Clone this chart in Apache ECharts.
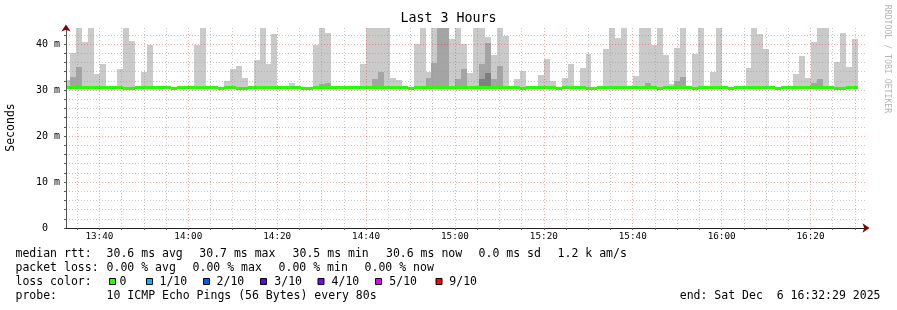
<!DOCTYPE html>
<html><head><meta charset="utf-8">
<script src="https://cdn.jsdelivr.net/npm/echarts@6/dist/echarts.min.js"></script>
<style>html,body{margin:0;padding:0;background:#fff}#c{width:897px;height:310px}</style>
</head><body><div id="c"></div>
<script>
// ---------- data ----------
const TITLE = 'Last 3 Hours';
const RANGE_START = '13:32:29';
const RANGE_END = '16:32:29';
const STEP_FIRST = '13:32:03';
const STEP_SECONDS = 80;
const X_LABELS = ['13:40','14:00','14:20','14:40','15:00','15:20','15:40','16:00','16:20'];
const Y_LABELS = ['0  ','10 m','20 m','30 m','40 m'];
const Y_LABEL_VALUES = [0,10,20,30,40];
const Y_MAX = 43.48;
const SMOKE_FLOOR = 30.4;

// highest ping per 80 s step (ms), null = no visible smoke
const pingMax = [
 32.2,38.0,44,40.4,44,33.4,35.6,null,null,34.5,
 44,40.7,null,33.9,39.8,null,null,null,null,null,
 null,null,39.8,44,null,null,null,31.9,34.5,35.2,
 32.6,null,36.5,44,35.6,42.2,null,null,31.5,null,
 null,null,39.8,44,42.4,null,null,null,null,null,
 35.6,44,44,44,44,32.6,32.1,null,null,40.0,
 44,33.9,44,44,44,41.1,44,40.0,33.7,44,
 44,41.5,37.6,44,41.7,null,32.5,34.1,null,null,
 33.2,36.7,31.9,null,32.6,35.6,null,34.8,37.8,null,
 null,38.9,44,41.3,44,null,33.0,44,44,39.8,
 44,37.6,31.3,39.1,44,null,37.8,44,null,33.9,
 44,null,null,null,null,34.8,43.5,42.2,38.9,null,
 null,null,null,33.4,37.4,32.6,40.4,44,44,null,
 36.1,42.4,35.0,41.1
];
// second smoke layer (inner pings)
const pingMidStep  = [1,2,43,44,52,53,61,62,63,64,66,67,70,71,72,73,98,103,104,126,127];
const pingMidValue = [32.8,35.0,31.4,31.5,32.5,33.9,32.6,35.8,44,44,32.5,34.5,35.6,40.2,32.5,35.2,31.5,31.9,32.8,31.5,32.5];
// third smoke layer
const pingDarkStep  = [70,71];
const pingDarkValue = [32.5,33.7];
// median rtt per step (ms)
const median = [
 30.6,30.6,30.6,30.6,30.6,30.6,30.6,30.6,30.6,30.6,
 30.4,30.4,30.6,30.6,30.6,30.6,30.6,30.6,30.4,30.6,
 30.6,30.6,30.6,30.6,30.6,30.6,30.4,30.6,30.6,30.4,
 30.4,30.6,30.6,30.6,30.6,30.6,30.6,30.6,30.6,30.6,
 30.4,30.4,30.6,30.6,30.6,30.6,30.6,30.6,30.6,30.6,
 30.6,30.6,30.6,30.6,30.6,30.6,30.6,30.6,30.4,30.6,
 30.6,30.6,30.6,30.6,30.6,30.6,30.6,30.6,30.6,30.6,
 30.6,30.6,30.6,30.6,30.6,30.6,30.6,30.4,30.6,30.6,
 30.6,30.6,30.6,30.4,30.6,30.6,30.6,30.6,30.4,30.4,
 30.6,30.6,30.6,30.6,30.6,30.6,30.6,30.6,30.6,30.6,
 30.4,30.6,30.6,30.6,30.6,30.6,30.4,30.6,30.6,30.6,
 30.6,30.6,30.4,30.6,30.6,30.6,30.6,30.6,30.6,30.6,
 30.4,30.6,30.6,30.6,30.6,30.6,30.6,30.6,30.6,30.6,
 30.4,30.4,30.6,30.6
];
const LOSS_LABELS = ['0','1/10','2/10','3/10','4/10','5/10','9/10'];
const LOSS_COLORS = ['#26ff00','#00b8ff','#0059ff','#5e00ff','#7e00ff','#dd00ff','#ff0000'];
const LEGEND_RTT = ['median rtt:','30.6 ms avg','30.7 ms max','30.5 ms min','30.6 ms now','0.0 ms sd','1.2 k am/s'];
const LEGEND_LOSS = ['packet loss:','0.00 % avg','0.00 % max','0.00 % min','0.00 % now'];
const LEGEND_PROBE = ['probe:','10 ICMP Echo Pings (56 Bytes) every 80s'];
const LEGEND_END = 'end: Sat Dec  6 16:32:29 2025';
const WATERMARK = 'RRDTOOL / TOBI OETIKER';

// ---------- build ----------
const MONO = '"DejaVu Sans Mono", monospace';
const toMin = s => { const p = s.split(':').map(Number); return p[0]*60 + p[1] + (p[2]||0)/60; };
const X_MIN = toMin(RANGE_START), X_MAX = toMin(RANGE_END);
const STEP_MIN = STEP_SECONDS/60;
const T0 = toMin(STEP_FIRST);
const xLabelVals = X_LABELS.map(toMin);
const xGrid = []; for (let v = Math.ceil(X_MIN/5)*5; v < X_MAX; v += 5) xGrid.push(v);
const yGrid = []; for (let v = 0; v <= Y_MAX; v += 2) yGrid.push(v);

function bandFull(arr){ const o=[]; arr.forEach((v,i)=>{ if(v!=null) o.push([T0+i*STEP_MIN, T0+(i+1)*STEP_MIN, v]); }); return o; }
function bandSparse(steps, vals){ return steps.map((s,k)=>[T0+s*STEP_MIN, T0+(s+1)*STEP_MIN, vals[k]]); }

function clip(r, cs){ return echarts.graphic.clipRectByRect(r, {x:cs.x, y:cs.y, width:cs.width, height:cs.height}); }
function smokeRender(color){
  return function(params, api){
    const a = api.coord([api.value(0), api.value(2)]);
    const b = api.coord([api.value(1), SMOKE_FLOOR]);
    const x0 = Math.round(a[0]), x1 = Math.round(b[0]);
    const y0 = Math.round(a[1]), y1 = Math.round(b[1]);
    const r = clip({x:x0, y:y0, width:x1-x0, height:y1-y0}, params.coordSys);
    return r ? {type:'rect', shape:r, style:{fill:color}} : null;
  };
}
function medianRender(params, api){
  const a = api.coord([api.value(0), api.value(2)]);
  const b = api.coord([api.value(1), api.value(2)]);
  const x0 = Math.round(a[0]), x1 = Math.round(b[0]);
  const y0 = Math.round(a[1] - 1.5);
  const r = clip({x:x0, y:y0, width:x1-x0, height:3}, params.coordSys);
  return r ? {type:'rect', shape:r, style:{fill:LOSS_COLORS[0]}} : null;
}

const GRAY = 'rgba(150,150,150,0.55)';
const RED = 'rgba(255,0,0,0.35)';

const graphics = [];
function txt(x, y, s, extra){ graphics.push(Object.assign({type:'text', x:x, y:y, style:{text:s, font:'11.5px '+MONO, fill:'#000', align:'left', verticalAlign:'middle'}}, extra||{})); }
const rowY = [254.3, 268.3, 282.3, 296.3];
[15.5,106.6,199.3,292.6,386,478.6,557.6].forEach((x,i)=>txt(x,rowY[0],LEGEND_RTT[i]));
[15.5,106.6,192.6,278.6,364.6].forEach((x,i)=>txt(x,rowY[1],LEGEND_LOSS[i]));
txt(15.5,rowY[2],'loss color:');
const boxX = [109,146,203,260,317.5,375,435.5];
const labX = [119.5,159.5,216.6,274.3,331.6,389.3,449.3];
LOSS_LABELS.forEach((l,i)=>{
  graphics.push({type:'rect', shape:{x:boxX[i]+0.5, y:278.5, width:6, height:6}, style:{fill:LOSS_COLORS[i], stroke:'#000', lineWidth:1}});
  txt(labX[i], rowY[2], l);
});
txt(15.5,rowY[3],LEGEND_PROBE[0]); txt(106.6,rowY[3],LEGEND_PROBE[1]);
graphics.push({type:'text', x:880.5, y:rowY[3], style:{text:LEGEND_END, font:'11.5px '+MONO, fill:'#000', align:'right', verticalAlign:'middle'}});
graphics.push({type:'text', x:11, y:127.5, rotation:Math.PI/2, style:{text:'Seconds', font:'11.5px '+MONO, fill:'#000', align:'center', verticalAlign:'middle'}});
graphics.push({type:'text', x:887.5, y:59, rotation:-Math.PI/2, style:{text:WATERMARK, font:'8.2px '+MONO, fill:'#b4b4b4', align:'center', verticalAlign:'middle'}});

const chart = echarts.init(document.getElementById('c'), null, {renderer:'canvas'});
chart.setOption({
  animation:false,
  backgroundColor:'#fff',
  title:{text:TITLE, left:'center', top:12, padding:0, textStyle:{fontFamily:MONO, fontSize:13.3, fontWeight:'normal', color:'#000'}},
  grid:{left:66, top:28, width:800, height:200},
  xAxis:[{
    type:'value', min:X_MIN, max:X_MAX, position:'bottom', z:5,
    axisLine:{show:true, onZero:false, lineStyle:{color:'#222', width:1}},
    axisTick:{show:true, customValues:xGrid, length:2, lineStyle:{color:'#555'}},
    axisLabel:{customValues:xLabelVals, margin:4, fontFamily:MONO, fontSize:9.3, color:'#000',
      formatter:v=>{ const i = xLabelVals.findIndex(u=>Math.abs(u-v)<1e-6); return i>=0?X_LABELS[i]:''; }},
    splitLine:{show:true, lineStyle:{color:[GRAY,RED,GRAY,GRAY], type:[1,2], width:1}}
  },{
    type:'value', min:X_MIN, max:X_MAX, position:'bottom', show:true, z:6,
    axisLine:{show:true, onZero:false, symbol:['none','arrow'], symbolSize:[7,7], symbolOffset:[0,3.5], lineStyle:{color:'#7f0000', opacity:0}},
    axisTick:{show:false}, axisLabel:{show:false}, splitLine:{show:false}
  }],
  yAxis:[{
    type:'value', min:0, max:Y_MAX, position:'left', z:5,
    axisLine:{show:true, onZero:false, lineStyle:{color:'#555', width:1}},
    axisTick:{show:true, customValues:yGrid, length:2, lineStyle:{color:'#555'}},
    axisLabel:{customValues:Y_LABEL_VALUES, margin:6, fontFamily:MONO, fontSize:10, color:'#000',
      formatter:v=>{ const i = Y_LABEL_VALUES.indexOf(v); return i>=0?Y_LABELS[i]:''; }},
    splitLine:{show:true, lineStyle:{color:[RED,GRAY,GRAY,GRAY,GRAY], type:[1,2], width:1}}
  },{
    type:'value', min:0, max:Y_MAX, position:'left', show:true, z:6,
    axisLine:{show:true, onZero:false, symbol:['none','arrow'], symbolSize:[7,7], symbolOffset:[0,3.5], lineStyle:{color:'#7f0000', opacity:0}},
    axisTick:{show:false}, axisLabel:{show:false}, splitLine:{show:false}
  }],
  series:[
    {type:'custom', name:'smoke1', z:1, coordinateSystem:'cartesian2d', renderItem:smokeRender('#cacaca'), encode:{x:[0,1], y:2}, data:bandFull(pingMax)},
    {type:'custom', name:'smoke2', z:1, coordinateSystem:'cartesian2d', renderItem:smokeRender('#a4a4a4'), encode:{x:[0,1], y:2}, data:bandSparse(pingMidStep, pingMidValue)},
    {type:'custom', name:'smoke3', z:1, coordinateSystem:'cartesian2d', renderItem:smokeRender('#7e7e7e'), encode:{x:[0,1], y:2}, data:bandSparse(pingDarkStep, pingDarkValue)},
    {type:'custom', name:'median', z:2, coordinateSystem:'cartesian2d', renderItem:medianRender, encode:{x:[0,1], y:2}, data:bandFull(median)}
  ],
  graphic:{elements:graphics}
});
</script></body></html>
